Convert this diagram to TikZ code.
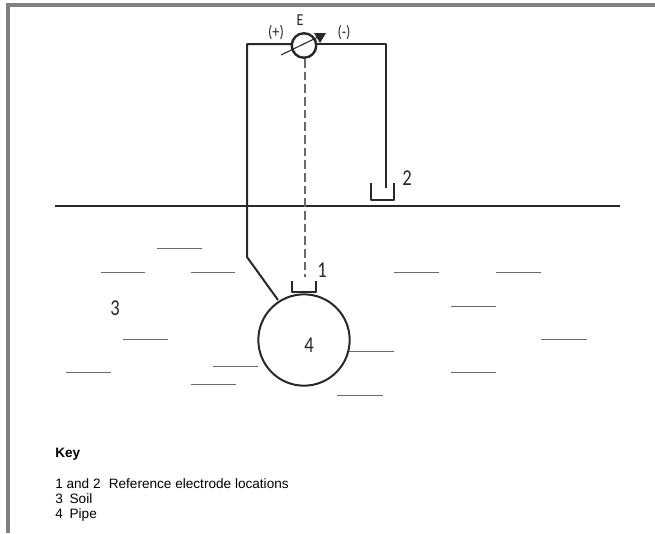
\documentclass[tikz,border=0pt]{standalone}
\usepackage{fontspec}
\setmainfont{Liberation Sans}
\newfontfamily\labelfont{Carlito}
\definecolor{framegray}{RGB}{128,128,128}
\definecolor{inkdark}{RGB}{40,40,40}
\definecolor{soilgray}{RGB}{105,105,105}
\tikzset{
  wire/.style={draw=inkdark,line width=1.5pt,line join=round},
  thinwire/.style={draw=inkdark,line width=1.1pt},
  dashwire/.style={draw=soilgray,line width=1.1pt,dash pattern=on 6.5pt off 3pt},
  soil/.style={draw=soilgray,line width=1pt},
  framebar/.style={fill=framegray,draw=none},
  bigdigit/.style={font=\labelfont\fontsize{17}{17}\selectfont,text=inkdark,inner sep=0pt,xscale=.82},
  smalllabel/.style={font=\labelfont\fontsize{12.5}{13}\selectfont,text=inkdark,inner sep=0pt,xscale=.85},
  keytext/.style={font=\fontsize{10.2}{12}\selectfont,text=black,inner sep=0pt,anchor=base west}
}
\begin{document}
\begin{tikzpicture}[x=0.75pt,y=-0.75pt]
\useasboundingbox (0,0) rectangle (655,533);
\fill[white] (0,0) rectangle (655,533);
\path[framebar] (6,3) rectangle (655,7);
\path[framebar] (6,3) rectangle (10,533);
% soil
\foreach \xa/\xb/\yy in {157/202/248.6,101/145/272.6,191/235/272.6,394/439/272.6,496/541/272.6,451/496/306.6,123/168/339.6,541/587/339.6,213/258/366.4,349/394/351.4,66/111/372.6,191/236/384.4,451/496/372.6,337/383/395.4}
  \draw[soil] (\xa,\yy) -- (\xb,\yy);
% ground
\coordinate (gl) at (55,206);
\coordinate (gr) at (620,206);
\draw[wire] (gl) -- (gr);
% meter and pipe
\node[circle,draw=inkdark,line width=1.8pt,minimum size=18.4pt,inner sep=0pt] (meter) at (304,45.5) {};
\node[circle,draw=inkdark,line width=1.5pt,minimum size=68.5pt,inner sep=0pt] (pipe) at (304,340) {};
\node[bigdigit] (n4) at (309,345.5) {4};
% electrodes
\draw[thinwire,line join=round] (292,281) -- (292,292) -- (316,292) -- (316,281);
\draw[thinwire,line join=round] (371,183) -- (371,200) -- (394,200) -- (394,183);
% connectors
\coordinate (ltop) at (247,44);
\coordinate (rtop) at (386,44);
\coordinate (mleft) at (292,44);
\coordinate (mright) at (316,44);
\coordinate (lbend) at (247,257);
\coordinate (ptap) at (278,300);
\coordinate (dashend) at (305,277);
\coordinate (dashtop) at (305,59);
\coordinate (e2top) at (386,188);
\draw[wire] (mleft) -- (ltop) -- (lbend) -- (ptap);
\draw[wire] (mright) -- (rtop) -- (e2top);
\draw[dashwire] (dashtop) -- (dashend);
% meter pointer
\coordinate (pa) at (281,55);
\coordinate (pb) at (318,37);
\draw[draw=inkdark,line width=0.8pt] (pa) -- (pb);
\fill[inkdark] (314,33) -- (326,33) -- (320,43) -- cycle;
% labels
\node[bigdigit] (n1) at (322,270) {1};
\node[bigdigit] (n2) at (407,178) {2};
\node[bigdigit] (n3) at (115,308) {3};
\node[smalllabel] (lE) at (300,20) {E};
\node[smalllabel] (lp) at (276,33) {(+)};
\node[smalllabel] (lm) at (344,33) {(-)};
% key
\node[keytext,font=\fontsize{10.2}{12}\selectfont\bfseries] (kk) at (55,457) {Key};
\node[keytext] (k1) at (55,488) {1 and 2\hspace{0.6em}Reference electrode locations};
\node[keytext] (k2) at (55,503) {3\hspace{0.5em}Soil};
\node[keytext] (k3) at (55,518) {4\hspace{0.5em}Pipe};
\end{tikzpicture}
\end{document}
